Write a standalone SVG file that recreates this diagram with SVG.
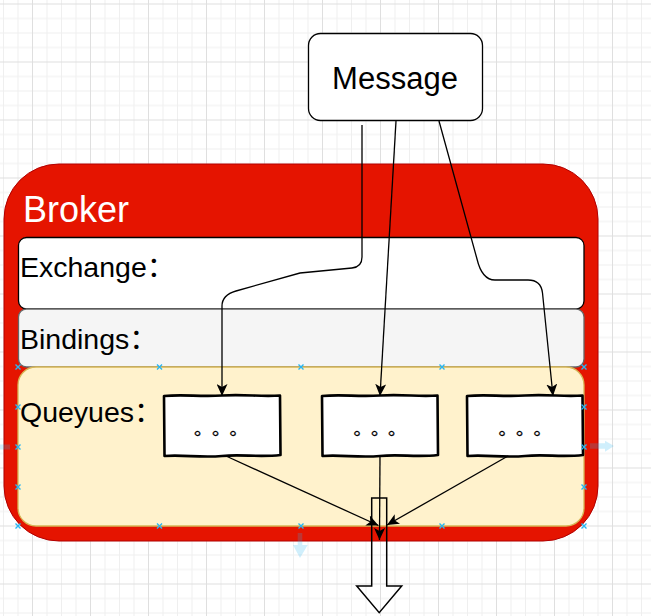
<svg xmlns="http://www.w3.org/2000/svg" xmlns:xlink="http://www.w3.org/1999/xlink" width="651" height="616" viewBox="0 0 651 616">
<style>
.lbl{font-family:"Liberation Sans","Noto Sans CJK SC",Arial,sans-serif;fill:#000}
.dots{font-family:"Noto Sans CJK SC","Noto Sans CJK JP",sans-serif;font-size:18px;fill:#000;stroke:#000;stroke-width:0.3}
.edge{fill:none;stroke:#000;stroke-width:1.3}
.q{fill:#fff;stroke:#000;stroke-width:2.6;stroke-linejoin:round}
.hint{fill:#29b6f2;opacity:0.22}
</style>
<defs>
<pattern id="grid" x="32" y="3.5" width="58" height="58" patternUnits="userSpaceOnUse">
<path d="M15,0V58M29.5,0V58M44,0V58M0,15H58M0,29.5H58M0,44H58" stroke="#efefef" stroke-width="1" fill="none"/>
<path d="M0.5,0V58M0,0.5H58" stroke="#dfdfdf" stroke-width="1" fill="none"/>
</pattern>
<marker id="arr" markerUnits="userSpaceOnUse" markerWidth="12" markerHeight="11" refX="12" refY="5.5" orient="auto" viewBox="0 0 12 11">
<path d="M0,0L12,5.5L0,11L3,5.5Z" fill="#000"/>
</marker>
<path id="xm" d="M-2.5,-2.5L2.5,2.5M-2.5,2.5L2.5,-2.5" stroke="#29b6f2" stroke-width="1.4" fill="none"/>
</defs>
<rect x="0" y="0" width="651" height="616" fill="#fff"/>
<rect x="0" y="0" width="651" height="616" fill="url(#grid)"/>

<g id="broker">
<rect x="4" y="164" width="594" height="377" rx="55" ry="55" fill="#e51400" stroke="#b20000" stroke-width="1"/>
<text x="23" y="222" font-family="Liberation Sans,Arial,sans-serif" font-size="36" fill="#fff">Broker</text>
</g>
<g id="exchange">
<rect x="18.5" y="237.5" width="565.5" height="71.5" rx="8" fill="#fff" stroke="#000" stroke-width="1.3"/>
<text class="lbl" x="20" y="277" font-size="28.5">Exchange：</text>
</g>
<g id="bindings">
<rect x="18.5" y="309" width="565.5" height="58" rx="8" fill="#f5f5f5" stroke="#666" stroke-width="1.3"/>
<text class="lbl" x="20" y="349" font-size="28.5">Bindings：</text>
</g>
<g id="queues">
<rect x="18" y="367" width="566" height="159" rx="18" fill="#fff2cc" stroke="#d6b656" stroke-width="1.3"/>
<text class="lbl" x="20" y="422" font-size="28.5">Queyues：</text>
</g>

<g id="output-arrow">
<path d="M371.7,498H386.7V586H401.7L379.2,612.7L356.7,586H371.7Z" fill="none" stroke="#000" stroke-width="1.5"/>
</g>

<g id="queue1">
<path class="q" d="M164,396C185,394 198,397 222,395.5C246,394 260,397 280,395.5L280.5,455C258,457.5 242,454 222,456C200,458 184,454.5 164.5,456Z"/>
<text class="dots" x="194 212 229.5" y="434.5">。。。</text>
</g>
<g id="queue2">
<path class="q" d="M322,396C343,394 356,397 380,395.5C404,394 418,397 437.5,395.5L438,455C416,457.5 400,454 380,456C358,458 342,454.5 322.5,456Z"/>
<text class="dots" x="353.5 371 388" y="434.5">。。。</text>
</g>
<g id="queue3">
<path class="q" d="M467,396C488,394 501,397 525,395.5C549,394 563,397 582.5,395.5L583,455C561,457.5 545,454 525,456C503,458 487,454.5 467.5,456Z"/>
<text class="dots" x="498.5 516 533.5" y="434.5">。。。</text>
</g>

<g id="message">
<rect x="308.5" y="33.5" width="174" height="87" rx="12" fill="#fff" stroke="#000" stroke-width="1.3"/>
<text class="lbl" x="395" y="89" font-size="31" text-anchor="middle">Message</text>
</g>

<g id="connectors">
<path class="edge" marker-end="url(#arr)" d="M362,125V257Q362,267 352,268L300,273L236,291Q222,295 222,306V396"/>
<path class="edge" marker-end="url(#arr)" d="M396,121L380,396"/>
<path class="edge" marker-end="url(#arr)" d="M439,121L477,259Q482,280 495,280L528,280Q541,280 542.5,293L553,396"/>
<path class="edge" marker-end="url(#arr)" d="M226,456L378.5,525.5"/>
<path class="edge" marker-end="url(#arr)" d="M380,456L379.5,540"/>
<path class="edge" marker-end="url(#arr)" d="M508,456L387,525"/>
</g>

<g id="ui-hints">
<path class="hint" d="M0,444.5H10V449.5H0Z"/>
<path class="hint" d="M590,443.3H605V440.7L614,446L605,451.7V448.7H590Z"/>
<path class="hint" d="M297.7,533H302.3V545H307.7L300,558L293,545H297.7Z"/>
<use xlink:href="#xm" x="18" y="367"/><use xlink:href="#xm" x="159.5" y="367"/><use xlink:href="#xm" x="301" y="367"/><use xlink:href="#xm" x="442" y="367"/><use xlink:href="#xm" x="584" y="367"/>
<use xlink:href="#xm" x="18" y="526"/><use xlink:href="#xm" x="159.5" y="526"/><use xlink:href="#xm" x="301" y="526"/><use xlink:href="#xm" x="442" y="526"/><use xlink:href="#xm" x="584" y="526"/>
<use xlink:href="#xm" x="18" y="407"/><use xlink:href="#xm" x="18" y="447"/><use xlink:href="#xm" x="18" y="487"/>
<use xlink:href="#xm" x="584" y="407"/><use xlink:href="#xm" x="584" y="447"/><use xlink:href="#xm" x="584" y="487"/>
</g>
</svg>
